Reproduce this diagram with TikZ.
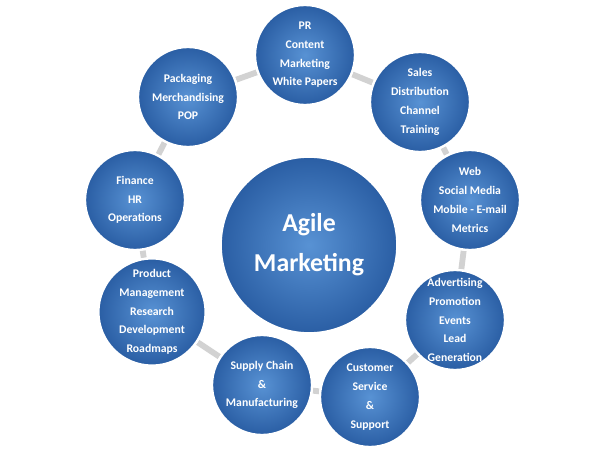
\documentclass[tikz,border=0pt]{standalone}
\usepackage{fontspec}
\setmainfont{Carlito}
\usetikzlibrary{shadings,backgrounds}
\definecolor{ballin}{RGB}{88,146,212}
\definecolor{ballout}{RGB}{42,94,164}
\tikzset{
  ball/.style={circle, draw=white, line width=2pt, inner sep=0pt,
    inner color=ballin, outer color=ballout, text=white,
    font=\bfseries\fontsize{10}{16}\selectfont,
    align=center, minimum size=3cm},
  link/.style={line width=5pt, draw=gray!35},
}
\begin{document}
\begin{tikzpicture}[x=0.03cm,y=-0.03cm]
  \useasboundingbox (0,0) rectangle (615,457);
  % outer ring of topics
  \node[ball] (pr)   at (305,55)  {PR\\Content\\Marketing\\White Papers};
  \node[ball] (sal)  at (420,102) {Sales\\Distribution\\Channel\\Training};
  \node[ball] (web)  at (470,200) {Web\\Social Media\\Mobile - E-mail\\Metrics};
  \node[ball] (adv)  at (455,320) {Advertising\\Promotion\\Events\\Lead\\Generation};
  \node[ball] (cus)  at (370,397) {Customer\\Service\\\&\\Support};
  \node[ball] (sup)  at (262,385) {Supply Chain\\\&\\Manufacturing};
  \node[ball] (prod) at (152,312) {Product\\Management\\Research\\Development\\Roadmaps};
  \node[ball] (fin)  at (135,200) {Finance\\HR\\Operations};
  \node[ball] (pack) at (188,97)  {Packaging\\Merchandising\\POP};
  % centre
  \node[ball, minimum size=5.3cm, font=\bfseries\fontsize{22}{34}\selectfont] (agile) at (309,245) {Agile\\Marketing};
  % ring links
  \begin{scope}[on background layer]
    \foreach \a/\b in {pr/sal,sal/web,web/adv,adv/cus,cus/sup,sup/prod,prod/fin,fin/pack,pack/pr}
      \draw[link] (\a) -- (\b);
  \end{scope}
\end{tikzpicture}
\end{document}
